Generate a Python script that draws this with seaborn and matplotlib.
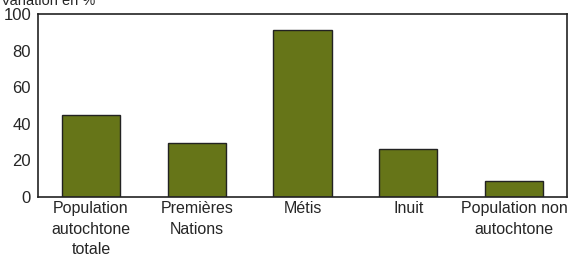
import matplotlib
matplotlib.use("Agg")
import matplotlib.pyplot as plt
import seaborn as sns
import pandas as pd

categories = ["Population\nautochtone\ntotale", "Premières\nNations", "Métis", "Inuit", "Population non\nautochtone"]
values = [45, 29.5, 91, 26, 8.5]
yticks = [0, 20, 40, 60, 80, 100]

df = pd.DataFrame({"cat": categories, "val": values})

sns.set_theme(style="white")
plt.rcParams['font.family'] = ['Liberation Sans', 'DejaVu Sans']

fig = plt.figure(figsize=(5.68, 2.58), dpi=100)
ax = fig.add_axes([38 / 568, 61 / 258, 529 / 568, 183 / 258])

sns.barplot(data=df, x="cat", y="val", color="#667518", saturation=1, width=0.55,
            edgecolor="#222222", linewidth=1, ax=ax)

ax.set_xlim(-0.5, 4.5)
ax.set_ylim(0, 100)
ax.set_yticks(yticks)
ax.set_xlabel("")
ax.set_ylabel("")
for s in ax.spines.values():
    s.set_color("#222222")
    s.set_linewidth(1.2)
ax.tick_params(axis="y", direction="out", length=4, width=1, color="#222222", labelsize=12, pad=1)
ax.tick_params(axis="x", length=0, labelsize=11.5, pad=3)
for lbl in ax.get_xticklabels():
    lbl.set_linespacing(1.45)

fig.text(0.002, 0.98, "Variation en %", fontsize=10.5, ha="left", va="baseline")

fig.savefig("out.png", dpi=100)
